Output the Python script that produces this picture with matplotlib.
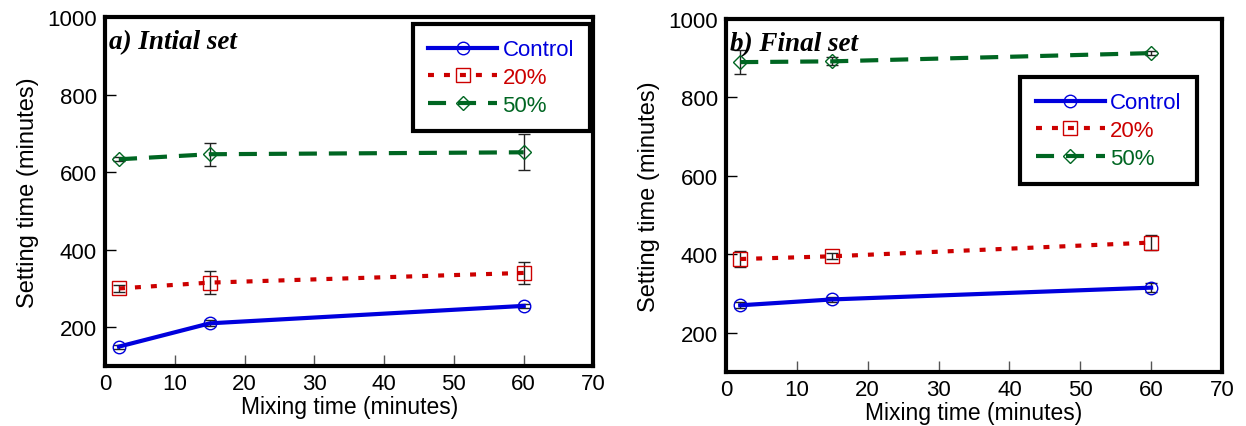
import matplotlib
matplotlib.use("Agg")
import matplotlib.pyplot as plt

plt.rcParams['font.family'] = ['Liberation Sans', 'DejaVu Sans']
plt.rcParams['lines.scale_dashes'] = False

mix_time = [2, 15, 60]

# Panel a) Initial set
a_control = [150, 210, 255]
a_control_err = [5, 8, 6]
a_20 = [300, 315, 340]
a_20_err = [8, 30, 29]
a_50 = [633, 646, 651]
a_50_err = [5, 30, 46]

# Panel b) Final set
b_control = [270, 285, 315]
b_control_err = [8, 6, 12]
b_20 = [388, 395, 430]
b_20_err = [20, 8, 20]
b_50 = [890, 892, 913]
b_50_err = [30, 10, 5]

series_labels = ['Control', '20%', '50%']
titles = ['a) Intial set', 'b) Final set']
x_ticks = [0, 10, 20, 30, 40, 50, 60, 70]
y_ticks = [200, 400, 600, 800, 1000]

colors = ['#0000dd', '#cc0000', '#006622']
markers = ['o', 's', 'D']
msizes = [9, 10, 7]
styles = ['-', (0, (4.3, 7.2)), (0, (13, 8.6))]

fig = plt.figure(figsize=(12.46, 4.27), dpi=100)
ax1 = fig.add_axes([0.0843, 0.1405, 0.392, 0.8175])
ax2 = fig.add_axes([0.5827, 0.1265, 0.398, 0.8267])

panels = [
    (ax1, [a_control, a_20, a_50], [a_control_err, a_20_err, a_50_err],
     dict(loc='upper right', bbox_to_anchor=(0.992, 0.98))),
    (ax2, [b_control, b_20, b_50], [b_control_err, b_20_err, b_50_err],
     dict(loc='upper right', bbox_to_anchor=(0.95, 0.836))),
]

for i, (ax, ys, errs, legkw) in enumerate(panels):
    handles = []
    for j in range(3):
        ax.errorbar(mix_time, ys[j], yerr=errs[j], fmt='none', ecolor='#222222',
                    elinewidth=1, capsize=4, capthick=1, zorder=2)
        h, = ax.plot(mix_time, ys[j], color=colors[j], linestyle=styles[j], lw=3,
                     marker=markers[j], markersize=msizes[j], markerfacecolor='none',
                     markeredgecolor=colors[j], markeredgewidth=1, label=series_labels[j],
                     zorder=3)
        handles.append(h)
    ax.set_xlim(0, 70)
    ax.set_ylim(100, 1000)
    ax.set_xticks(x_ticks)
    ax.set_yticks(y_ticks)
    ax.tick_params(direction='in', length=8, width=1, labelsize=16, colors='black',
                   top=False, right=False, pad=6)
    ax.tick_params(axis='x', color='#555555', pad=5)
    for sp in ax.spines.values():
        sp.set_linewidth(3)
    ax.set_xlabel('Mixing time (minutes)', fontsize=16.5, labelpad=1)
    ax.set_ylabel('Setting time (minutes)', fontsize=17, labelpad=6)
    ax.text(0.008, 0.965, titles[i], transform=ax.transAxes, ha='left', va='top',
            fontsize=19.5, fontweight='bold', fontstyle='italic',
            family=['Liberation Serif', 'DejaVu Serif'])
    leg = ax.legend(handles=handles, frameon=True, fancybox=False, fontsize=16,
                    handlelength=3.1, handletextpad=0.25, borderpad=0.7,
                    borderaxespad=0, labelspacing=0.3, edgecolor='black',
                    framealpha=1, **legkw)
    leg.get_frame().set_linewidth(3)
    for t, c in zip(leg.get_texts(), colors):
        t.set_color(c)

fig.savefig('out.png', dpi=100)
